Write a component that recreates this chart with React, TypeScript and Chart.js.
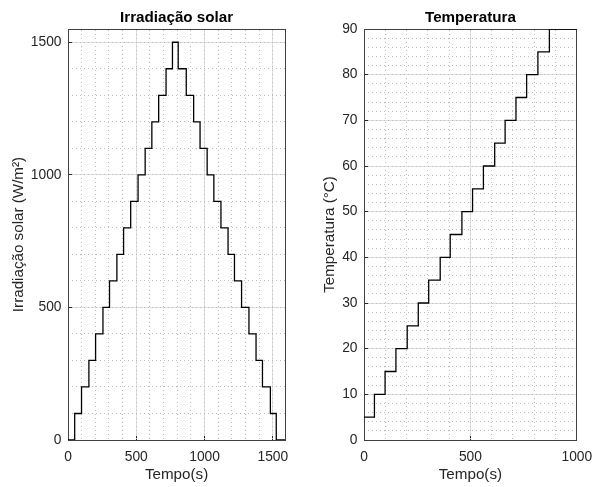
import React, { useEffect, useRef } from "react";
import { Chart, registerables } from "chart.js";

Chart.register(...registerables);

const FONT = "'Liberation Sans', Arial, Helvetica, sans-serif";

// Irradiação solar: step start times (s) and levels (W/m²)
const irrTime = [0, 49, 99, 153, 202, 256, 304, 358, 407, 459, 513, 565, 614, 664, 718, 765, 807, 866, 920, 967, 1019, 1068, 1120, 1172, 1219, 1271, 1325, 1377, 1424, 1482, 1525, 1590];
const irrValue = [0, 100, 200, 300, 400, 500, 600, 700, 800, 900, 1000, 1100, 1200, 1300, 1400, 1500, 1400, 1300, 1200, 1100, 1000, 900, 800, 700, 600, 500, 400, 300, 200, 100, 0, 0];
const irrXTicks = [0, 500, 1000, 1500];
const irrYTicks = [0, 500, 1000, 1500];

// Temperatura: step start times (s) and levels (°C)
const tempTime = [0, 49, 99, 150, 203, 255, 304, 358, 405, 460, 510, 561, 614, 663, 714, 764, 817, 871, 1000];
const tempValue = [5, 10, 15, 20, 25, 30, 35, 40, 45, 50, 55, 60, 65, 70, 75, 80, 85, 90, 90];
const tempXTicks = [0, 500, 1000];
const tempYTicks = [0, 10, 20, 30, 40, 50, 60, 70, 80, 90];

const TEXT = "#262626";
const BOX = "#404040";
const MAJOR = "#e0e0e0";
const MINOR = "#bdbdbd";
const TICK_SIZE = 13.8;
const LABEL_SIZE = 15.2;

// minor grid positions (every `step` from 0 up to `max`)
function gridRange(max: number, step: number): number[] {
  const out: number[] = [];
  for (let v = 0; v <= max + 1e-9; v += step) out.push(Math.round(v * 1000) / 1000);
  return out;
}

type Cfg = {
  time: number[];
  value: number[];
  title: string;
  xTitle: string;
  yTitle: string;
  xMax: number;
  yMax: number;
  xTicks: number[];
  yTicks: number[];
  xMinor: number;
  yMinor: number;
  yWidth: number;
  rightPad: number;
  yTitlePad: number;
};

const setTicks = (vals: number[]) => (s: any) => {
  s.ticks = vals.map((v) => ({ value: v }));
};

function buildConfig(c: Cfg): any {
  const xMinorTicks = gridRange(c.xMax, c.xMinor);
  const yMinorTicks = gridRange(c.yMax, c.yMinor);
  return {
    type: "line",
    data: {
      datasets: [
        {
          data: c.time.map((t, i) => ({ x: t, y: c.value[i] })),
          borderColor: "#000000",
          borderWidth: 1.3,
          pointRadius: 0,
          stepped: "before",
          fill: false,
        },
      ],
    },
    options: {
      animation: false,
      responsive: false,
      devicePixelRatio: 1,
      layout: { padding: { left: 0, right: c.rightPad, top: 0, bottom: 0 } },
      plugins: {
        legend: { display: false },
        tooltip: { enabled: false },
        title: {
          display: true,
          text: c.title,
          fullSize: false,
          color: "#000000",
          font: { family: FONT, size: LABEL_SIZE, weight: "bold", lineHeight: 1 },
          padding: { top: 10.4, bottom: 3.4 },
        },
      },
      scales: {
        x: {
          type: "linear",
          position: "bottom",
          min: 0,
          max: c.xMax,
          afterBuildTicks: setTicks(c.xTicks),
          ticks: {
            autoSkip: false,
            maxRotation: 0,
            color: TEXT,
            padding: 13.8,
            font: { family: FONT, size: TICK_SIZE, lineHeight: 1 },
            callback: (v: number) => String(v),
          },
          grid: { color: MAJOR, lineWidth: 1, drawTicks: true, tickLength: -4, tickColor: TEXT, tickWidth: 1 },
          border: { display: true, color: BOX, width: 1 },
          title: {
            display: true,
            text: c.xTitle,
            color: TEXT,
            font: { family: FONT, size: LABEL_SIZE, lineHeight: 1 },
            padding: { top: 0, bottom: 4.5 },
          },
          afterFit: (s: any) => {
            s.height = 47;
          },
        },
        x2: {
          type: "linear",
          position: "top",
          min: 0,
          max: c.xMax,
          afterBuildTicks: setTicks(xMinorTicks),
          ticks: { display: false },
          grid: { color: MINOR, lineWidth: 1, drawTicks: false },
          border: { display: true, color: BOX, width: 1, dash: [1, 3] },
          afterFit: (s: any) => {
            s.height = 0;
          },
        },
        y: {
          type: "linear",
          position: "left",
          min: 0,
          max: c.yMax,
          afterBuildTicks: setTicks(c.yTicks),
          ticks: {
            autoSkip: false,
            color: TEXT,
            padding: 10.5,
            font: { family: FONT, size: TICK_SIZE, lineHeight: 1 },
            callback: (v: number) => String(v),
          },
          grid: { color: MAJOR, lineWidth: 1, drawTicks: true, tickLength: -4, tickColor: TEXT, tickWidth: 1 },
          border: { display: true, color: BOX, width: 1 },
          title: {
            display: true,
            text: c.yTitle,
            color: TEXT,
            font: { family: FONT, size: LABEL_SIZE, lineHeight: 1 },
            padding: { top: c.yTitlePad, bottom: 0 },
          },
          afterFit: (s: any) => {
            s.width = c.yWidth;
          },
        },
        y2: {
          type: "linear",
          position: "right",
          min: 0,
          max: c.yMax,
          afterBuildTicks: setTicks(yMinorTicks),
          ticks: { display: false },
          grid: { color: MINOR, lineWidth: 1, drawTicks: false },
          border: { display: true, color: BOX, width: 1, dash: [1, 3] },
          afterFit: (s: any) => {
            s.width = 0;
          },
        },
      },
    },
  };
}

function Panel({ cfg, left }: { cfg: Cfg; left: number }) {
  const ref = useRef<HTMLCanvasElement | null>(null);
  useEffect(() => {
    if (!ref.current) return;
    const chart = new Chart(ref.current, buildConfig(cfg));
    return () => chart.destroy();
  }, [cfg]);
  return (
    <canvas
      ref={ref}
      width={303}
      height={487}
      style={{ position: "absolute", left, top: 0, width: 303, height: 487, display: "block" }}
    />
  );
}

const irrCfg: Cfg = {
  time: irrTime,
  value: irrValue,
  title: "Irradiação solar",
  xTitle: "Tempo(s)",
  yTitle: "Irradiação solar (W/m²)",
  xMax: 1590,
  yMax: 1550,
  xTicks: irrXTicks,
  yTicks: irrYTicks,
  xMinor: 100,
  yMinor: 100,
  yWidth: 68,
  rightPad: 10,
  yTitlePad: 10.8,
};

const tempCfg: Cfg = {
  time: tempTime,
  value: tempValue,
  title: "Temperatura",
  xTitle: "Tempo(s)",
  yTitle: "Temperatura (°C)",
  xMax: 1000,
  yMax: 90,
  xTicks: tempXTicks,
  yTicks: tempYTicks,
  xMinor: 100,
  yMinor: 2,
  yWidth: 61,
  rightPad: 17,
  yTitlePad: 19.5,
};

export default function App() {
  return (
    <div style={{ position: "fixed", left: 0, top: 0, width: 606, height: 487, background: "#ffffff" }}>
      <Panel cfg={irrCfg} left={0} />
      <Panel cfg={tempCfg} left={303} />
    </div>
  );
}
